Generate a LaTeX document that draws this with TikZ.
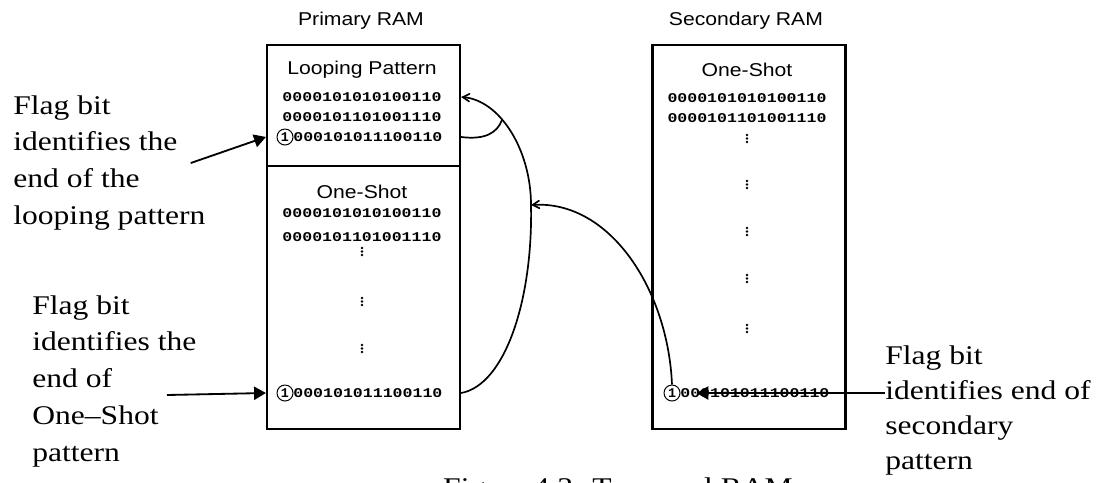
\documentclass[tikz,border=0pt]{standalone}
\usepackage{fontspec}
\setmainfont{Liberation Serif}
\setsansfont{Liberation Sans}
\setmonofont{Liberation Mono}
\usetikzlibrary{arrows}
\usetikzlibrary{positioning}

\begin{document}
\begin{tikzpicture}[x=0.25mm,y=-0.25mm,node distance=5mm,
    ram box/.style={draw,line width=1.6pt,minimum width=48.25mm,minimum height=96mm,inner sep=0pt},
    ram title/.style={font=\sffamily\fontsize{13.2}{15}\selectfont,xscale=1.14,inner sep=0pt},
    bits/.style={font=\ttfamily\bfseries\fontsize{9.5}{11}\selectfont,xscale=1.24,inner sep=0pt},
    flag bit/.style={circle,draw,line width=0.7pt,minimum size=4mm,inner sep=0pt,font=\ttfamily\bfseries\fontsize{9.5}{11}\selectfont},
    note/.style={align=left,inner sep=0pt,xscale=1.17,font=\fontsize{19.2}{26.3}\selectfont},
    dot col/.style={line width=1.9pt,line cap=round,dash pattern=on 0pt off 2.5pt},
    loop arrow/.style={->,>=angle 60,line width=1.2pt},
    pointer/.style={-triangle 60,line width=1.3pt}]

  \useasboundingbox (0,0) rectangle (1102,482);

  \node[ram box] (P) at (363.5,237) {};
  \node[ram box] (S) at (749,237) {};
  \node[ram title] (PT) at (361,21) {Primary RAM};
  \node[ram title] (ST) at (746,21) {Secondary RAM};
  \coordinate (div) at (0,166);
  \draw[line width=1.6pt] (P.west |- div) -- (P.east |- div);

  \node[ram title] (LP) at (362,70) {Looping Pattern};
  \node[bits] (P1) at (362,97) {0000101010100110};
  \node[bits] (P2) [below of=P1] {0000101101001110};
  \node[flag bit] (PF1) at (285,137) {1};
  \node[bits,anchor=west] (P3) at (293,137) {000101011100110};

  \node[ram title] (POS) at (362,192) {One-Shot};
  \node[bits] (P4) at (362,213) {0000101010100110};
  \node[bits] (P5) at (362,237) {0000101101001110};
  \draw[dot col] (362,248) -- (362,258);
  \draw[dot col] (362,298) -- (362,308);
  \draw[dot col] (362,345) -- (362,355);
  \node[flag bit] (PF2) at (285,393) {1};
  \node[bits,anchor=west] (P6) at (293,393) {000101011100110};

  \node[ram title] (SOS) at (747,70) {One-Shot};
  \node[bits] (S1) at (747,98) {0000101010100110};
  \node[bits] (S2) [below of=S1] {0000101101001110};
  \draw[dot col] (747,135) -- (747,145);
  \draw[dot col] (747,181) -- (747,191);
  \draw[dot col] (747,228) -- (747,238);
  \draw[dot col] (747,275) -- (747,285);
  \draw[dot col] (747,325) -- (747,335);
  \node[flag bit] (SF) at (672,393) {1};
  \node[bits,anchor=west] (S3) at (680,393) {000101011100110};

  \node[note,anchor=north west] (N1) at (13,95) {Flag bit\\identifies the\\end of the\\looping pattern};
  \node[note,anchor=north west] (N2) at (32,295) {Flag bit\\identifies the\\end of\\One--Shot\\pattern};
  \node[note,anchor=north west,font=\fontsize{19.2}{25}\selectfont] (N3) at (885,345) {Flag bit\\identifies end of\\secondary\\pattern};
  \node[note,anchor=north] (CAP) at (618,477) {Figure 4.3: Temporal RAM};

  \coordinate (a2) at (167,395);
  \coordinate (K) at (531,205);
  \coordinate (J) at (502,120);

  \draw[pointer] ([xshift=-3.75mm]N1.east) -- (P.west |- PF1);
  \draw[pointer] (a2) -- (P.west |- PF2);
  \draw[pointer] (N3.west |- SF) -- ([xshift=4mm]SF.east);

  \draw[loop arrow] (P.east |- PF2) .. controls (505,385) and (533,300) .. (K)
    .. controls (531,150) and (500,100) .. (P.east |- P1);
  \draw[line width=1.2pt] (P.east |- PF1) .. controls (485,140) and (497,133) .. (J);
  \draw[loop arrow] (SF.north) .. controls (668,290) and (610,200) .. (K);

\end{tikzpicture}
\end{document}
